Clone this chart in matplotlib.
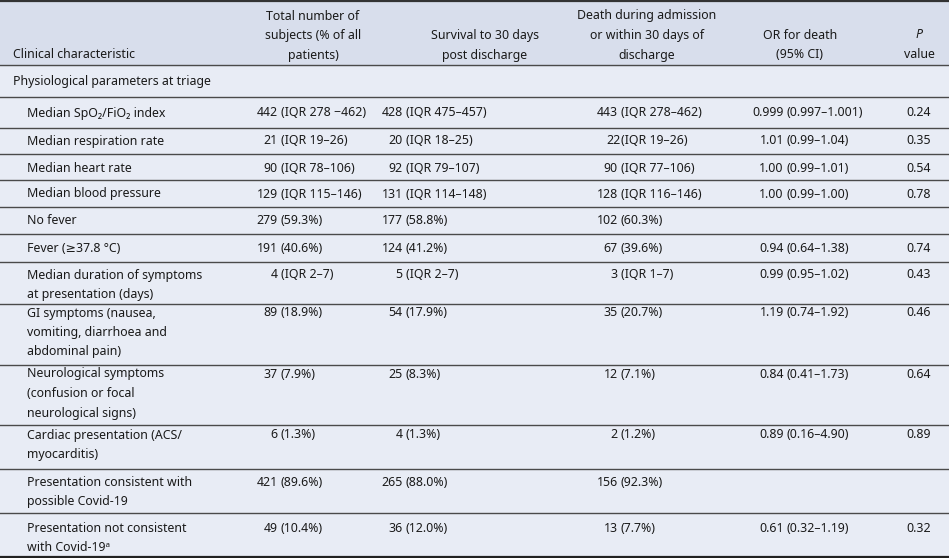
import matplotlib
matplotlib.use("Agg")
import matplotlib.pyplot as plt

plt.rcParams['font.family'] = ['Noto Sans', 'DejaVu Sans']

# table content
headers = ["Clinical characteristic",
           "Total number of\nsubjects (% of all\npatients)",
           "Survival to 30 days\npost discharge",
           "Death during admission\nor within 30 days of\ndischarge",
           "OR for death\n(95% CI)"]
section = "Physiological parameters at triage"

labels = ["Median SpO\u2082/FiO\u2082 index",
          "Median respiration rate",
          "Median heart rate",
          "Median blood pressure",
          "No fever",
          "Fever (\u226537.8 \u00b0C)",
          "Median duration of symptoms\nat presentation (days)",
          "GI symptoms (nausea,\nvomiting, diarrhoea and\nabdominal pain)",
          "Neurological symptoms\n(confusion or focal\nneurological signs)",
          "Cardiac presentation (ACS/\nmyocarditis)",
          "Presentation consistent with\npossible Covid-19",
          "Presentation not consistent\nwith Covid-19\u1d43"]

total = ["442 (IQR 278 \u2212462)", "21 (IQR 19\u201326)", "90 (IQR 78\u2013106)",
         "129 (IQR 115\u2013146)", "279 (59.3%)", "191 (40.6%)", "4 (IQR 2\u20137)",
         "89 (18.9%)", "37 (7.9%)", "6 (1.3%)", "421 (89.6%)", "49 (10.4%)"]
survival = ["428 (IQR 475\u2013457)", "20 (IQR 18\u201325)", "92 (IQR 79\u2013107)",
            "131 (IQR 114\u2013148)", "177 (58.8%)", "124 (41.2%)", "5 (IQR 2\u20137)",
            "54 (17.9%)", "25 (8.3%)", "4 (1.3%)", "265 (88.0%)", "36 (12.0%)"]
death = ["443 (IQR 278\u2013462)", "22(IQR 19\u201326)", "90 (IQR 77\u2013106)",
         "128 (IQR 116\u2013146)", "102 (60.3%)", "67 (39.6%)", "3 (IQR 1\u20137)",
         "35 (20.7%)", "12 (7.1%)", "2 (1.2%)", "156 (92.3%)", "13 (7.7%)"]
odds = ["0.999 (0.997\u20131.001)", "1.01 (0.99\u20131.04)", "1.00 (0.99\u20131.01)",
        "1.00 (0.99\u20131.00)", "", "0.94 (0.64\u20131.38)", "0.99 (0.95\u20131.02)",
        "1.19 (0.74\u20131.92)", "0.84 (0.41\u20131.73)", "0.89 (0.16\u20134.90)", "",
        "0.61 (0.32\u20131.19)"]
pvals = ["0.24", "0.35", "0.54", "0.78", "", "0.74", "0.43",
         "0.46", "0.64", "0.89", "", "0.32"]

# layout (pixels)
W, H = 949, 558
row_y = [113, 141, 168, 194, 221, 248, 275, 313, 374, 435, 482, 528]
lines_y = [65, 97, 128, 154, 180, 207, 234, 262, 304, 365, 425, 469, 513]
paren_x = [281, 406, 621, 787]
head_x = [13, 313, 485, 647, 800, 919]
lh = 19.5
fs = 8.9
head_bg = "#d8deec"
body_bg = "#e8ecf5"
txt = "#1a1a1a"

fig = plt.figure(figsize=(W / 100, H / 100), dpi=100)
ax = fig.add_axes([0, 0, 1, 1])
ax.set_xlim(0, W)
ax.set_ylim(H, 0)
ax.axis("off")

ax.add_patch(plt.Rectangle((0, 0), W, H, color=body_bg, zorder=0))
ax.add_patch(plt.Rectangle((0, 0), W, 65, color=head_bg, zorder=0))

# header
ax.text(head_x[0], 55, headers[0], ha="left", va="center", fontsize=fs, color=txt)
for x, h in zip(head_x[1:5], headers[1:5]):
    n = h.count("\n")
    for j, line in enumerate(h.split("\n")):
        ax.text(x, 55 - (n - j) * lh, line, ha="center", va="center", fontsize=fs, color=txt)
ax.text(head_x[5], 35, "P", ha="center", va="center", fontsize=fs, color=txt, style="italic")
ax.text(head_x[5], 55, "value", ha="center", va="center", fontsize=fs, color=txt)

ax.text(13, 81, section, ha="left", va="center", fontsize=fs, color=txt)


def cell(x, y, s):
    if not s:
        return
    i = s.index("(")
    pre, post = s[:i], s[i:]
    gap = 3.2 if pre.endswith(" ") else 0.5
    ax.text(x - gap, y, pre.strip(), ha="right", va="center", fontsize=fs, color=txt)
    ax.text(x, y, post, ha="left", va="center", fontsize=fs, color=txt)


for k, y in enumerate(row_y):
    for j, line in enumerate(labels[k].split("\n")):
        ax.text(27, y + j * lh, line, ha="left", va="center", fontsize=fs, color=txt)
    cell(paren_x[0], y, total[k])
    cell(paren_x[1], y, survival[k])
    cell(paren_x[2], y, death[k])
    cell(paren_x[3], y, odds[k])
    ax.text(head_x[5], y, pvals[k], ha="center", va="center", fontsize=fs, color=txt)

# rules
ax.axhline(1, color="#333333", lw=1.6)
for y in lines_y:
    ax.axhline(y, color="#4a4a4a", lw=1.0)
ax.axhline(H - 1, color="#222222", lw=1.6)

fig.savefig("out.png", dpi=100)
